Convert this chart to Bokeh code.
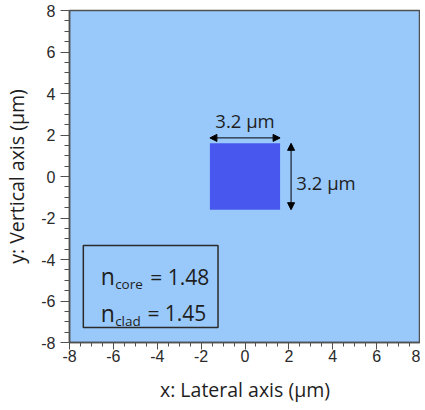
import numpy as np
from bokeh.plotting import figure
from bokeh.models import FixedTicker, Arrow, NormalHead
from bokeh.core.properties import value
from bokeh.embed import file_html
from bokeh.resources import INLINE

# ---- data ----
x_range = [-8, 8]
y_range = [-8, 8]
major_ticks = [-8, -6, -4, -2, 0, 2, 4, 6, 8]
minor_ticks = list(np.arange(-8, 8.01, 0.5))
tick_labels = {t: str(t) for t in major_ticks}   # plain hyphen minus, as in the original
core_left, core_right = -1.6, 1.6
core_bottom, core_top = -1.6, 1.6
core_width_label = "3.2 μm"
core_height_label = "3.2 μm"
n_core = 1.48
n_clad = 1.45

BG = "#99C9FB"
CORE = "#4858EE"
AX = "#505050"
TXT = "#1E1E1E"
LABEL_FONT = "Open Sans"
TICK_FONT = "Liberation Sans"

p = figure(frame_width=351, frame_height=332, x_range=tuple(x_range), y_range=tuple(y_range),
           output_backend="svg", toolbar_location=None,
           min_border_left=62, min_border_top=10, min_border_right=0, min_border_bottom=40)
p.background_fill_color = BG
p.border_fill_color = "white"
p.outline_line_color = AX
p.outline_line_width = 1.5
p.xgrid.visible = False
p.ygrid.visible = False

for ax in (p.xaxis[0], p.yaxis[0]):
    ax.ticker = FixedTicker(ticks=major_ticks, minor_ticks=minor_ticks)
    ax.major_label_overrides = tick_labels
    ax.axis_line_color = AX
    ax.axis_line_width = 1.5
    ax.major_tick_line_color = AX
    ax.minor_tick_line_color = AX
    ax.major_tick_in = 0
    ax.minor_tick_in = 0
    ax.major_label_text_font = TICK_FONT
    ax.major_label_text_font_size = "16px"
    ax.major_label_text_color = "#2A2A2A"
    ax.axis_label_text_font = LABEL_FONT
    ax.axis_label_text_font_style = "normal"
    ax.axis_label_text_color = TXT
    ax.axis_label_text_font_size = "19.5px"

p.xaxis.major_tick_out = 7
p.xaxis.minor_tick_out = 4
p.yaxis.major_tick_out = 9
p.yaxis.minor_tick_out = 5
p.xaxis.axis_label = "x: Lateral axis (μm)"
p.yaxis.axis_label = "y: Vertical axis (μm)"
p.xaxis.major_label_standoff = 0
p.yaxis.major_label_standoff = 5
p.xaxis.axis_label_standoff = 11
p.yaxis.axis_label_standoff = 8

# core
p.quad(left=[core_left], right=[core_right], bottom=[core_bottom], top=[core_top],
       fill_color=CORE, line_color=None)

# dimension arrows
def head():
    return NormalHead(size=7, fill_color="black", line_color="black")

p.add_layout(Arrow(x_start=core_left, y_start=1.86, x_end=core_right, y_end=1.86,
                   start=head(), end=head(), line_color="black", line_width=1))
p.add_layout(Arrow(x_start=2.1, y_start=core_top, x_end=2.1, y_end=core_bottom,
                   start=head(), end=head(), line_color="black", line_width=1))
p.text(x=[0.0], y=[2.68], text=[core_width_label], text_align="center",
       text_baseline="alphabetic", text_font=value(LABEL_FONT), text_font_size="18.5px",
       text_color=TXT)
p.text(x=[2.34], y=[-0.3], text=[core_height_label], text_align="left",
       text_baseline="alphabetic", text_font=value(LABEL_FONT), text_font_size="18.5px",
       text_color=TXT)

# index box
p.quad(left=[-7.37], right=[-1.23], bottom=[-7.28], top=[-3.33],
       fill_alpha=0, line_color="#2A2A2A", line_width=1.5)
p.text(x=[-6.58, -6.58], y=[-4.78, -6.56], text=["n", "n"], text_align="left",
       text_baseline="alphabetic", text_font=value(LABEL_FONT), text_font_size="23px",
       text_color=TXT)
p.text(x=[-5.92, -5.92], y=[-5.16, -6.94], text=["core", "clad"], text_align="left",
       text_baseline="alphabetic", text_font=value(LABEL_FONT), text_font_size="13.5px",
       text_color=TXT)
p.text(x=[-4.32, -4.45], y=[-4.83, -6.56],
       text=[f"= {n_core:.2f}", f"= {n_clad:.2f}"], text_align="left",
       text_baseline="alphabetic", text_font=value(LABEL_FONT), text_font_size="21px",
       text_color=TXT)

open("out.html", "w").write(file_html(p, INLINE))
